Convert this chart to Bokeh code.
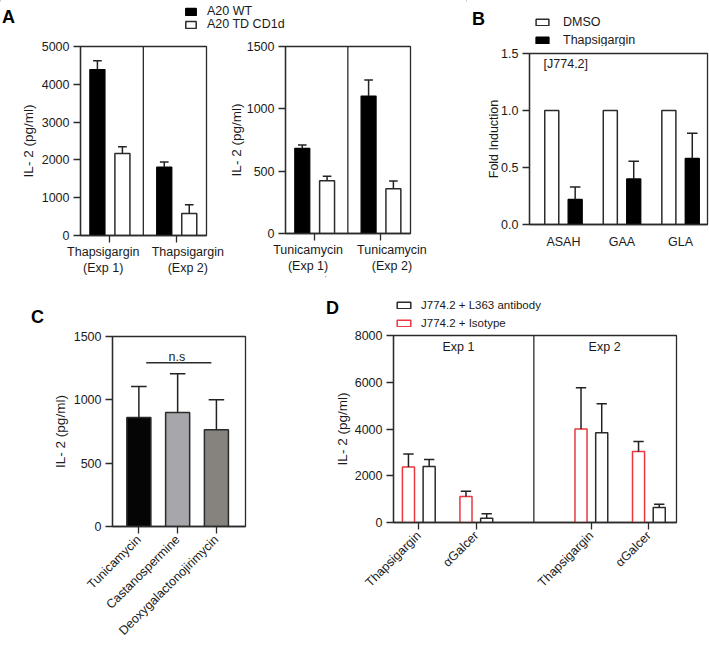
import math
import numpy as np
from bokeh.plotting import figure
from bokeh.models import (Range1d, FixedTicker, Span, Label, Legend, LegendItem,
                          NumeralTickFormatter)
from bokeh.layouts import row, column
from bokeh.embed import file_html
from bokeh.resources import INLINE

# ---------------- data ----------------
# Panel A (left): Thapsigargin
a_left_groups = ["Thapsigargin\n(Exp 1)", "Thapsigargin\n(Exp 2)"]
a_left_wt = [4390, 1805]
a_left_wt_err = [230, 142]
a_left_td = [2168, 584]
a_left_td_err = [177, 230]
a_left_yticks = [0, 1000, 2000, 3000, 4000, 5000]
# Panel A (right): Tunicamycin
a_right_groups = ["Tunicamycin\n(Exp 1)", "Tunicamycin\n(Exp 2)"]
a_right_wt = [683, 1102]
a_right_wt_err = [27, 129]
a_right_td = [424, 358]
a_right_td_err = [35, 64]
a_right_yticks = [0, 500, 1000, 1500]
a_series = ["A20 WT", "A20 TD CD1d"]

# Panel B
b_genes = ["ASAH", "GAA", "GLA"]
b_dmso = [1.0, 1.0, 1.0]
b_thap = [0.22, 0.40, 0.58]
b_thap_err = [0.11, 0.155, 0.22]
b_yticks = [0.0, 0.5, 1.0, 1.5]
b_series = ["DMSO", "Thapsigargin"]

# Panel C
c_drugs = ["Tunicamycin", "Castanospermine", "Deoxygalactonojirimycin"]
c_values = [860, 900, 763]
c_err = [245, 305, 237]
c_yticks = [0, 500, 1000, 1500]

# Panel D
d_stimuli = ["Thapsigargin", "\u03b1Galcer", "Thapsigargin", "\u03b1Galcer"]
d_exp_index = [0, 0, 1, 1]
d_stim_index = [0, 1, 0, 1]
d_experiments = ["Exp 1", "Exp 2"]
d_isotype = [2370, 1115, 3995, 3035]
d_isotype_err = [565, 220, 1765, 430]
d_l363 = [2400, 185, 3840, 645]
d_l363_err = [300, 185, 1235, 140]
d_yticks = [0, 2000, 4000, 6000, 8000]
d_series = ["J774.2 + L363 antibody", "J774.2 + Isotype"]

# ---------------- style ----------------
FONT = "Liberation Sans"
AX = "#2b2b2b"
TXT = "#1a1a1a"
ERR = "#222222"
RED = "#e8383d"
C_COLORS = ["#050505", "#a7a6aa", "#86827e"]
TICK_FS = "12.5px"
LAB_FS = "13.5px"


def style_axis(ax):
    ax.axis_line_color = AX
    ax.axis_line_width = 1.3
    ax.major_tick_line_color = AX
    ax.major_tick_line_width = 1.3
    ax.major_tick_out = 7
    ax.major_tick_in = 0
    ax.minor_tick_line_color = None
    ax.major_label_text_font = FONT
    ax.major_label_text_font_size = TICK_FS
    ax.major_label_text_color = TXT
    ax.axis_label_text_font = FONT
    ax.axis_label_text_font_size = LAB_FS
    ax.axis_label_text_font_style = "normal"
    ax.axis_label_text_color = TXT
    ax.major_label_standoff = 4
    ax.axis_label_standoff = 5


def make_fig(fw, fh, bl, br, bt, bb, xr, yr):
    p = figure(frame_width=fw, frame_height=fh, min_border_left=bl,
               min_border_right=br, min_border_top=bt, min_border_bottom=bb,
               x_range=xr, y_range=yr, output_backend="svg",
               toolbar_location=None, tools="")
    p.xgrid.visible = False
    p.ygrid.visible = False
    p.outline_line_color = AX
    p.outline_line_width = 1.3
    p.background_fill_color = "white"
    p.border_fill_color = "white"
    style_axis(p.xaxis[0])
    style_axis(p.yaxis[0])
    return p


def set_xcats(ax, ticks, labels):
    ax.ticker = FixedTicker(ticks=[float(t) for t in ticks])
    ax.major_label_overrides = {float(t): l for t, l in zip(ticks, labels)}


def spread_labels(p, ticks, labels, shift):
    """Tick marks (minor ticks) at the group centres, labels spread outwards."""
    ax = p.xaxis[0]
    lab_pos = [float(t) + s for t, s in zip(ticks, shift)]
    ax.ticker = FixedTicker(ticks=lab_pos, minor_ticks=[float(t) for t in ticks])
    ax.major_label_overrides = {v: l for v, l in zip(lab_pos, labels)}
    ax.major_tick_out = 0
    ax.major_tick_line_color = None
    ax.minor_tick_line_color = AX
    ax.minor_tick_line_width = 1.3
    ax.minor_tick_out = 7
    ax.minor_tick_in = 0
    ax.major_label_standoff = 2


def err_bars(p, xs, tops, errs, cap):
    xs = np.asarray(xs, dtype=float)
    tops = np.asarray(tops, dtype=float)
    ends = tops + np.asarray(errs, dtype=float)
    p.segment(x0=xs, y0=tops, x1=xs, y1=ends, line_color=ERR, line_width=1.5)
    p.segment(x0=xs - cap, y0=ends, x1=xs + cap, y1=ends, line_color=ERR, line_width=1.5)


def strip_fig(x0, x1, y0, y1):
    s = figure(width=x1 - x0, height=y1 - y0, x_range=Range1d(x0, x1),
               y_range=Range1d(y1, y0), min_border=0, x_axis_location=None,
               y_axis_location=None, output_backend="svg", toolbar_location=None,
               tools="")
    s.outline_line_color = None
    s.xgrid.visible = False
    s.ygrid.visible = False
    s.background_fill_color = "white"
    s.border_fill_color = "white"
    return s


def letter(s, text, x, y):
    s.add_layout(Label(x=x, y=y, text=text, text_font=FONT, text_font_size="18px",
                       text_font_style="bold", text_align="center",
                       text_baseline="middle", text_color="black"))


def swatch(s, fill, line):
    # legend-only renderer, its single bar lies outside the visible range
    return s.vbar(x=[-1000], top=[0], width=1, fill_color=fill, line_color=line,
                  line_width=1.5)


def one_legend(s, label, rend, x, yc, strip_bottom, x0, gw=16, gh=8, fs="12.5px",
               standoff=9, h=17):
    lg = Legend(items=[LegendItem(label=label, renderers=[rend])],
                location=(x - x0, strip_bottom - yc - h / 2),
                orientation="vertical", padding=0, margin=0, spacing=0,
                border_line_color=None, background_fill_alpha=0,
                glyph_width=gw, glyph_height=gh, label_standoff=standoff,
                label_height=gh, label_text_font=FONT, label_text_font_size=fs,
                label_text_color=TXT)
    s.add_layout(lg, "center")


# ---------------- Panel A strip (letter + legend) ----------------
sa = strip_fig(0, 465, 0, 36)
letter(sa, "A", 8, 16)
one_legend(sa, a_series[0], swatch(sa, "black", "black"), 184, 9.5, 36, 0, gw=13, gh=9, standoff=10)
one_legend(sa, a_series[1], swatch(sa, "white", AX), 184, 22.5, 36, 0, gw=13, gh=9, standoff=10)

# ---------------- Panel A left ----------------
A_OFF, A_W = 0.187, 0.225
SHIFT = [-0.1, 0.165]
pa1 = make_fig(126, 189, 80, 19, 7, 44, Range1d(0.56, 2.445), Range1d(0, 5000))
gpos = np.arange(1, len(a_left_groups) + 1)
pa1.vbar(x=gpos - A_OFF, top=a_left_wt, width=A_W, fill_color="black", line_color="black", line_width=1.3)
pa1.vbar(x=gpos + A_OFF, top=a_left_td, width=A_W, fill_color="white", line_color=AX, line_width=1.5)
err_bars(pa1, gpos - A_OFF, a_left_wt, a_left_wt_err, 0.065)
err_bars(pa1, gpos + A_OFF, a_left_td, a_left_td_err, 0.065)
pa1.add_layout(Span(location=1.5, dimension="height", line_color=AX, line_width=1.3))
pa1.yaxis.ticker = FixedTicker(ticks=a_left_yticks)
pa1.yaxis.axis_label = "IL- 2 (pg/ml)"
pa1.yaxis.axis_label_standoff = 3
spread_labels(pa1, gpos, a_left_groups, SHIFT)

# ---------------- Panel A right ----------------
pa2 = make_fig(125, 187, 59, 56, 10, 43, Range1d(0.56, 2.445), Range1d(0, 1500))
gpos2 = np.arange(1, len(a_right_groups) + 1)
pa2.vbar(x=gpos2 - A_OFF, top=a_right_wt, width=A_W, fill_color="black", line_color="black", line_width=1.3)
pa2.vbar(x=gpos2 + A_OFF, top=a_right_td, width=A_W, fill_color="white", line_color=AX, line_width=1.5)
err_bars(pa2, gpos2 - A_OFF, a_right_wt, a_right_wt_err, 0.065)
err_bars(pa2, gpos2 + A_OFF, a_right_td, a_right_td_err, 0.065)
pa2.add_layout(Span(location=1.5, dimension="height", line_color=AX, line_width=1.3))
pa2.yaxis.ticker = FixedTicker(ticks=a_right_yticks)
pa2.yaxis.axis_label = "IL- 2 (pg/ml)"
pa2.yaxis.axis_label_standoff = 0
spread_labels(pa2, gpos2, a_right_groups, SHIFT)

# ---------------- Panel B ----------------
sb = strip_fig(465, 709, 0, 46)
letter(sb, "B", 477, 18)
one_legend(sb, b_series[0], swatch(sb, "white", AX), 533, 20, 46, 465, gw=16, gh=8, standoff=13)
one_legend(sb, b_series[1], swatch(sb, "black", "black"), 533, 38, 46, 465, gw=16, gh=8, standoff=13)

B_OFF, B_W = 0.2, 0.24
pb = make_fig(178, 171, 63, 3, 7, 52, Range1d(0.42, 3.46), Range1d(0, 1.5))
bpos = np.arange(1, len(b_genes) + 1)
pb.vbar(x=bpos - B_OFF, top=b_dmso, width=B_W, fill_color="white", line_color=AX, line_width=1.5)
pb.vbar(x=bpos + B_OFF, top=b_thap, width=B_W, fill_color="black", line_color="black", line_width=1.3)
err_bars(pb, bpos + B_OFF, b_thap, b_thap_err, 0.09)
set_xcats(pb.xaxis[0], bpos, b_genes)
pb.xaxis.major_tick_out = 0
pb.xaxis.major_label_standoff = 10
pb.yaxis.ticker = FixedTicker(ticks=b_yticks)
pb.yaxis.formatter = NumeralTickFormatter(format="0.0")
pb.yaxis.axis_label = "Fold Induction"
pb.yaxis.axis_label_text_font_size = "12.5px"
pb.yaxis.axis_label_standoff = -3
pb.add_layout(Label(x=0.66, y=1.41, text="[J774.2]", text_font=FONT, text_font_size="12.5px",
                    text_align="left", text_baseline="middle", text_color=TXT))

# ---------------- Panel C ----------------
sc = strip_fig(0, 325, 276, 330)
letter(sc, "C", 37, 316)
pc = make_fig(133, 190, 112, 80, 6, 120, Range1d(0.32, 3.75), Range1d(0, 1500))
cpos = np.arange(1, len(c_drugs) + 1)
pc.vbar(x=cpos, top=c_values, width=0.62, fill_color=C_COLORS, line_color=AX, line_width=1.5)
err_bars(pc, cpos, c_values, c_err, 0.2)
pc.segment(x0=[1.19], y0=[1292], x1=[2.87], y1=[1292], line_color=AX, line_width=1.5)
pc.add_layout(Label(x=1.98, y=1340, text="n.s", text_font=FONT, text_font_size="12.5px",
                    text_align="center", text_baseline="alphabetic", text_color=TXT))
set_xcats(pc.xaxis[0], cpos, c_drugs)
pc.xaxis.major_label_orientation = math.pi / 4
pc.yaxis.ticker = FixedTicker(ticks=c_yticks)
pc.yaxis.axis_label = "IL- 2 (pg/ml)"
pc.yaxis.axis_label_standoff = 3

# ---------------- Panel D ----------------
D_OFF, D_W = 0.18, 0.21
sd = strip_fig(325, 709, 276, 330)
letter(sd, "D", 332, 307)
one_legend(sd, d_series[0], swatch(sd, "white", AX), 395, 303, 330, 325, gw=17, gh=8, fs="11.5px", h=15)
one_legend(sd, d_series[1], swatch(sd, "white", RED), 395, 321, 330, 325, gw=17, gh=8, fs="11.5px", h=15)

pd_ = make_fig(283, 187, 68, 33, 5, 124, Range1d(0.56, 5.48), Range1d(0, 8000))
dpos = 1 + 3 * np.asarray(d_exp_index) + np.asarray(d_stim_index)
pd_.vbar(x=dpos - D_OFF, top=d_isotype, width=D_W, fill_color="white", line_color=RED, line_width=1.5)
pd_.vbar(x=dpos + D_OFF, top=d_l363, width=D_W, fill_color="white", line_color=AX, line_width=1.5)
err_bars(pd_, dpos - D_OFF, d_isotype, d_isotype_err, 0.09)
err_bars(pd_, dpos + D_OFF, d_l363, d_l363_err, 0.09)
pd_.add_layout(Span(location=3, dimension="height", line_color=AX, line_width=1.3))
for ex, xl in zip(d_experiments, [1.69, 4.23]):
    pd_.add_layout(Label(x=xl, y=7490, text=ex, text_font=FONT, text_font_size="12.5px",
                         text_align="center", text_baseline="middle", text_color=TXT))
set_xcats(pd_.xaxis[0], dpos, d_stimuli)
pd_.xaxis.major_label_orientation = math.pi / 4
pd_.yaxis.ticker = FixedTicker(ticks=d_yticks)
pd_.yaxis.axis_label = "IL- 2 (pg/ml)"
pd_.yaxis.axis_label_standoff = 2

layout = column(
    row(column(sa, row(pa1, pa2)), column(sb, row(pb))),
    row(column(sc, row(pc)), column(sd, row(pd_))),
)
open("out.html", "w").write(file_html(layout, INLINE))
